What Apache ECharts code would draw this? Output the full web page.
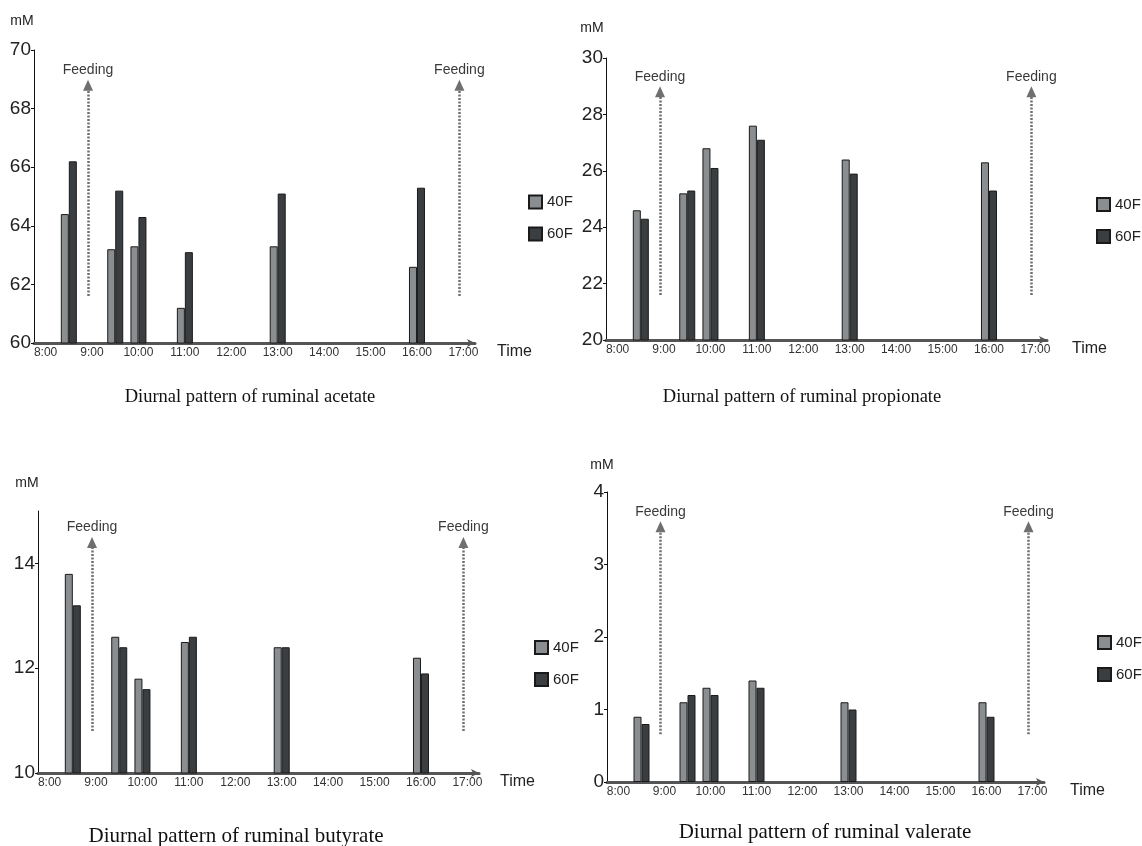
<!DOCTYPE html>
<html lang="en">
<head>
<meta charset="UTF-8">
<title>Diurnal pattern of ruminal VFA</title>
<style>
  html, body { margin: 0; padding: 0; background: #fff; }
  #chart { width: 1142px; height: 846px; }
</style>
</head>
<body>
<div id="chart"></div>
<script src="https://cdn.jsdelivr.net/npm/echarts@6/dist/echarts.min.js"></script>
<script>
// half-hour slots on the time axis, labels shown every hour
var times = ['8:00', '8:30', '9:00', '9:30', '10:00', '10:30', '11:00', '11:30', '12:00', '12:30',
             '13:00', '13:30', '14:00', '14:30', '15:00', '15:30', '16:00', '16:30', '17:00'];
var sampleTimes = ['8:30', '9:30', '10:00', '11:00', '13:00', '16:00'];
var feedingTimes = ['9:00', '17:00'];
var seriesNames = ['40F', '60F'];

// mM
var acetate40 = [64.4, 63.2, 63.3, 61.2, 63.3, 62.6];
var acetate60 = [66.2, 65.2, 64.3, 63.1, 65.1, 65.3];
var propionate40 = [24.6, 25.2, 26.8, 27.6, 26.4, 26.3];
var propionate60 = [24.3, 25.3, 26.1, 27.1, 25.9, 25.3];
var butyrate40 = [13.8, 12.6, 11.8, 12.5, 12.4, 12.2];
var butyrate60 = [13.2, 12.4, 11.6, 12.6, 12.4, 11.9];
var valerate40 = [0.9, 1.1, 1.3, 1.4, 1.1, 1.1];
var valerate60 = [0.8, 1.2, 1.2, 1.3, 1.0, 0.9];

var captions = ['Diurnal pattern of ruminal acetate', 'Diurnal pattern of ruminal propionate',
                'Diurnal pattern of ruminal butyrate', 'Diurnal pattern of ruminal valerate'];

// y axis range per panel
var yMin = [60, 20, 10, 0];
var yMax = [70, 30, 15, 4];
var yStep = [2, 2, 2, 1];
var butyrateTicks = [10, 12, 14];

// feeding arrows: from / to (mM)
var feedFrom = [61.6, 21.6, 10.8, 0.66];
var feedTo = [68.8, 28.8, 14.4, 3.52];

var values40 = [acetate40, propionate40, butyrate40, valerate40];
var values60 = [acetate60, propionate60, butyrate60, valerate60];

var grids = [
    {left: 34, top: 50, width: 441, height: 293},
    {left: 606, top: 58, width: 441, height: 282},
    {left: 38, top: 511, width: 441, height: 262},
    {left: 607, top: 492, width: 437, height: 290}
];
var legendLeft = [523, 1091, 529, 1092];
var timeGap = [22, 25, 21, 26];
var mMPos = [[22, 21], [592, 28], [27, 483], [602, 465]];
var captionPos = [[250, 397], [802, 397], [236, 836], [825, 832]];
var captionSize = [18.5, 18.5, 21, 21];

var sans = "'Liberation Sans', Arial, sans-serif";
var colors = ['#8b8e91', '#3b3e41'];

var xAxes = [], yAxes = [], series = [], legends = [], graphics = [];

for (var i = 0; i < 4; i++) {
    xAxes.push({
        type: 'category',
        gridIndex: i,
        data: times,
        name: 'Time',
        nameLocation: 'end',
        nameGap: timeGap[i],
        nameTextStyle: {fontSize: 16, color: '#222', verticalAlign: 'top', padding: [1, 0, 0, 0]},
        axisLine: {lineStyle: {color: '#555', width: 3}, symbol: ['none', 'arrow'], symbolSize: [6, 8]},
        axisTick: {inside: true, length: 5, interval: 0, lineStyle: {color: '#333', width: 1}},
        axisLabel: {interval: 1, margin: 4, fontSize: 12, color: '#333'}
    });

    var yAxis = {
        type: 'value',
        gridIndex: i,
        min: yMin[i],
        max: yMax[i],
        interval: yStep[i],
        axisLine: {show: true, lineStyle: {color: '#111', width: 1}},
        axisTick: {show: true, length: 3, lineStyle: {color: '#111'}},
        splitLine: {show: false},
        axisLabel: {fontSize: 19, color: '#222', margin: 3}
    };
    if (i === 2) {
        yAxis.axisTick.customValues = butyrateTicks;
        yAxis.axisLabel.customValues = butyrateTicks;
    }
    yAxes.push(yAxis);

    for (var s = 0; s < 2; s++) {
        var vals = s === 0 ? values40[i] : values60[i];
        var item = {
            type: 'bar',
            name: seriesNames[s],
            xAxisIndex: i,
            yAxisIndex: i,
            barWidth: 8,
            barGap: '0%',
            data: sampleTimes.map(function (t, k) { return [t, vals[k]]; }),
            itemStyle: {color: colors[s], borderColor: '#1a1a1a', borderWidth: 1}
        };
        if (s === 0) {
            item.markLine = {
                silent: true,
                symbol: ['none', 'triangle'],
                symbolSize: [10, 11],
                lineStyle: {type: [2, 1.5], color: '#6f6f6f', width: 2.5},
                label: {show: true, position: 'end', formatter: 'Feeding', distance: 8,
                        fontSize: 14, color: '#3a3a3a'},
                data: feedingTimes.map(function (t) {
                    return [{coord: [t, feedFrom[i]]}, {coord: [t, feedTo[i]]}];
                })
            };
        }
        series.push(item);
    }

    legends.push({
        data: seriesNames,
        orient: 'vertical',
        left: legendLeft[i],
        top: grids[i].top + grids[i].height / 2 - 7,
        icon: 'rect',
        itemWidth: 13,
        itemHeight: 13,
        itemGap: 17,
        selectedMode: false,
        textStyle: {fontSize: 15, color: '#222'}
    });

    graphics.push({
        type: 'text', x: mMPos[i][0], y: mMPos[i][1],
        style: {text: 'mM', fontSize: 14, fill: '#222', fontFamily: sans, align: 'center', verticalAlign: 'middle'}
    });
    graphics.push({
        type: 'text', x: captionPos[i][0], y: captionPos[i][1],
        style: {text: captions[i], fontSize: captionSize[i], fill: '#111',
                fontFamily: "'Liberation Serif', 'Times New Roman', serif", align: 'center', verticalAlign: 'middle'}
    });
}

var chart = echarts.init(document.getElementById('chart'));
chart.setOption({
    animation: false,
    backgroundColor: '#fff',
    textStyle: {fontFamily: sans},
    grid: grids,
    xAxis: xAxes,
    yAxis: yAxes,
    legend: legends,
    series: series,
    graphic: graphics
});
</script>
</body>
</html>
